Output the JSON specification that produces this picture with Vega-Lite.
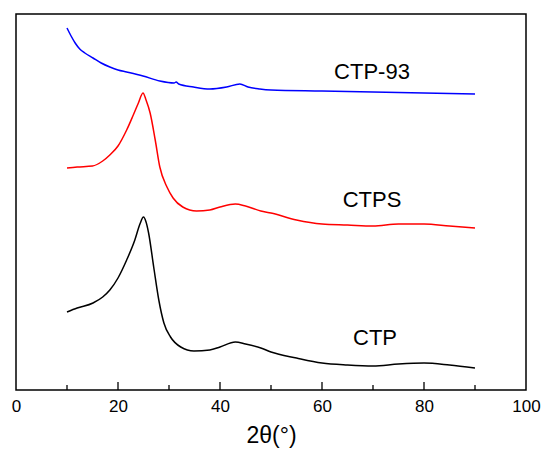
{
  "$schema": "https://vega.github.io/schema/vega-lite/v6.json",
  "width": 510,
  "height": 376,
  "autosize": "none",
  "padding": {"left": 16, "top": 14, "right": 18, "bottom": 64},
  "background": "white",
  "config": {
    "view": {"stroke": "black", "strokeWidth": 1.5},
    "font": "Liberation Sans"
  },
  "datasets": {
    "curves": [
      {"x": 10, "y": 78, "s": "CTP"}, {"x": 12, "y": 82, "s": "CTP"}, {"x": 15.1, "y": 87, "s": "CTP"},
      {"x": 17, "y": 93, "s": "CTP"}, {"x": 18.4, "y": 100, "s": "CTP"}, {"x": 20, "y": 112, "s": "CTP"},
      {"x": 21.7, "y": 130, "s": "CTP"}, {"x": 23.3, "y": 150, "s": "CTP"}, {"x": 24.3, "y": 166, "s": "CTP"},
      {"x": 25, "y": 173, "s": "CTP"}, {"x": 25.5, "y": 168, "s": "CTP"}, {"x": 26, "y": 157, "s": "CTP"},
      {"x": 27, "y": 123, "s": "CTP"}, {"x": 28, "y": 90, "s": "CTP"}, {"x": 29, "y": 67, "s": "CTP"},
      {"x": 30.3, "y": 53, "s": "CTP"}, {"x": 32.3, "y": 43, "s": "CTP"}, {"x": 34.9, "y": 39, "s": "CTP"},
      {"x": 38, "y": 40, "s": "CTP"}, {"x": 40, "y": 43, "s": "CTP"}, {"x": 43, "y": 48, "s": "CTP"},
      {"x": 45, "y": 46, "s": "CTP"}, {"x": 48, "y": 42, "s": "CTP"}, {"x": 50, "y": 38, "s": "CTP"},
      {"x": 55, "y": 32, "s": "CTP"}, {"x": 60, "y": 27, "s": "CTP"}, {"x": 65, "y": 25, "s": "CTP"},
      {"x": 70, "y": 24, "s": "CTP"}, {"x": 75, "y": 26, "s": "CTP"}, {"x": 80, "y": 27, "s": "CTP"},
      {"x": 85, "y": 25, "s": "CTP"}, {"x": 90, "y": 22, "s": "CTP"},
      {"x": 10, "y": 222, "s": "CTPS"}, {"x": 12, "y": 223, "s": "CTPS"}, {"x": 15, "y": 224, "s": "CTPS"},
      {"x": 17, "y": 229, "s": "CTPS"}, {"x": 18.4, "y": 235, "s": "CTPS"}, {"x": 20, "y": 244, "s": "CTPS"},
      {"x": 21.7, "y": 260, "s": "CTPS"}, {"x": 23, "y": 275, "s": "CTPS"}, {"x": 24, "y": 287, "s": "CTPS"},
      {"x": 24.9, "y": 297, "s": "CTPS"}, {"x": 25.5, "y": 290, "s": "CTPS"}, {"x": 26.3, "y": 277, "s": "CTPS"},
      {"x": 27.3, "y": 250, "s": "CTPS"}, {"x": 28.2, "y": 223, "s": "CTPS"}, {"x": 29.6, "y": 203, "s": "CTPS"},
      {"x": 30.8, "y": 192, "s": "CTPS"}, {"x": 32.7, "y": 183, "s": "CTPS"}, {"x": 35.4, "y": 179, "s": "CTPS"},
      {"x": 38, "y": 180, "s": "CTPS"}, {"x": 40, "y": 183, "s": "CTPS"}, {"x": 43, "y": 186, "s": "CTPS"},
      {"x": 45, "y": 184, "s": "CTPS"}, {"x": 48, "y": 179, "s": "CTPS"}, {"x": 50, "y": 177, "s": "CTPS"},
      {"x": 55, "y": 170, "s": "CTPS"}, {"x": 60, "y": 166, "s": "CTPS"}, {"x": 65, "y": 165, "s": "CTPS"},
      {"x": 70, "y": 164, "s": "CTPS"}, {"x": 75, "y": 166, "s": "CTPS"}, {"x": 80, "y": 166, "s": "CTPS"},
      {"x": 85, "y": 164, "s": "CTPS"}, {"x": 90, "y": 162, "s": "CTPS"},
      {"x": 10, "y": 362, "s": "CTP-93"}, {"x": 10.8, "y": 354, "s": "CTP-93"}, {"x": 11.6, "y": 347, "s": "CTP-93"},
      {"x": 12.5, "y": 341, "s": "CTP-93"}, {"x": 13.5, "y": 337, "s": "CTP-93"}, {"x": 15.1, "y": 332, "s": "CTP-93"},
      {"x": 16.7, "y": 327, "s": "CTP-93"}, {"x": 18.4, "y": 323, "s": "CTP-93"}, {"x": 20, "y": 320, "s": "CTP-93"},
      {"x": 21.7, "y": 318, "s": "CTP-93"}, {"x": 24.9, "y": 314, "s": "CTP-93"}, {"x": 28.2, "y": 309, "s": "CTP-93"},
      {"x": 31, "y": 307, "s": "CTP-93"}, {"x": 31.4, "y": 308, "s": "CTP-93"}, {"x": 31.9, "y": 306, "s": "CTP-93"},
      {"x": 34.8, "y": 303, "s": "CTP-93"}, {"x": 38, "y": 301, "s": "CTP-93"}, {"x": 41.3, "y": 303, "s": "CTP-93"},
      {"x": 43.9, "y": 306, "s": "CTP-93"}, {"x": 45.5, "y": 303, "s": "CTP-93"}, {"x": 47.8, "y": 301, "s": "CTP-93"},
      {"x": 50, "y": 300, "s": "CTP-93"}, {"x": 60, "y": 299, "s": "CTP-93"}, {"x": 70, "y": 298, "s": "CTP-93"},
      {"x": 80, "y": 297, "s": "CTP-93"}, {"x": 90, "y": 296, "s": "CTP-93"}
    ],
    "labels": [
      {"x": 69.8, "y": 318, "t": "CTP-93"},
      {"x": 69.8, "y": 190, "t": "CTPS"},
      {"x": 70.4, "y": 52, "t": "CTP"}
    ],
    "ticks": [
      {"x": 10, "base": 0, "len": 5}, {"x": 20, "base": 0, "len": 8}, {"x": 30, "base": 0, "len": 5},
      {"x": 40, "base": 0, "len": 8}, {"x": 50, "base": 0, "len": 5}, {"x": 60, "base": 0, "len": 8},
      {"x": 70, "base": 0, "len": 5}, {"x": 80, "base": 0, "len": 8}, {"x": 90, "base": 0, "len": 5}
    ]
  },
  "layer": [
    {
      "data": {"name": "curves"},
      "mark": {"type": "line", "strokeWidth": 1.5, "interpolate": "monotone"},
      "encoding": {
        "x": {
          "field": "x", "type": "quantitative",
          "scale": {"domain": [0, 100], "nice": false},
          "axis": {
            "title": "2θ(°)",
            "titleFontSize": 23, "titleFontWeight": "normal", "titleColor": "black",
            "titleFont": "Liberation Sans", "titlePadding": 10,
            "values": [0, 20, 40, 60, 80, 100],
            "labelFontSize": 17, "labelColor": "black", "labelFont": "Liberation Sans",
            "labelPadding": 8,
            "ticks": false,
            "domain": false, "grid": false, "labelFlush": false, "labelOverlap": false
          }
        },
        "y": {
          "field": "y", "type": "quantitative",
          "scale": {"domain": [0, 376], "nice": false},
          "axis": null
        },
        "color": {
          "field": "s", "type": "nominal",
          "scale": {"domain": ["CTP", "CTPS", "CTP-93"], "range": ["black", "#ff0000", "#0000ff"]},
          "legend": null
        },
        "detail": {"field": "s"}
      }
    },
    {
      "data": {"name": "ticks"},
      "mark": {"type": "rule", "color": "black", "strokeWidth": 1.3},
      "encoding": {
        "x": {"field": "x", "type": "quantitative"},
        "y": {"field": "base", "type": "quantitative"},
        "y2": {"field": "len"}
      }
    },
    {
      "data": {"name": "labels"},
      "mark": {"type": "text", "fontSize": 22, "font": "Liberation Sans", "color": "black", "align": "center", "baseline": "middle"},
      "encoding": {
        "x": {"field": "x", "type": "quantitative"},
        "y": {"field": "y", "type": "quantitative"},
        "text": {"field": "t"}
      }
    }
  ]
}
